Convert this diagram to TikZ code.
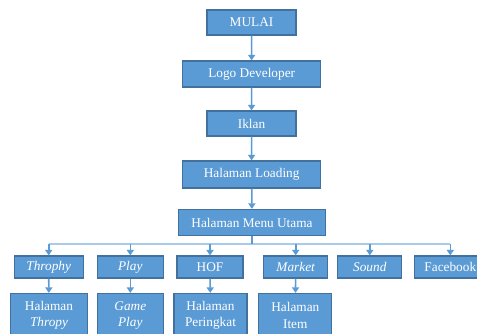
\documentclass[tikz,border=0pt]{standalone}
\usepackage{fontspec}
\setmainfont{Liberation Serif}
\usetikzlibrary{arrows.meta}
\definecolor{boxfill}{HTML}{5B9BD5}
\definecolor{boxline}{HTML}{41719C}
\definecolor{arr}{HTML}{5B9BD5}
\definecolor{bus}{HTML}{A9CBEA}
\begin{document}
\begin{tikzpicture}[x=1pt,y=-1pt,
  box/.style={draw=boxline, fill=boxfill, line width=1.2pt, text=white, inner sep=0pt,
    align=center, font=\fontsize{13.3}{16.5}\selectfont},
  conn/.style={draw=arr, line width=1.6pt, -{Triangle[width=7pt,length=5.5pt]}},
  plain/.style={draw=arr, line width=1.6pt}]
\clip (0,0) rectangle (477,334);
\fill[white] (0,0) rectangle (477,334);
\node[box, minimum width=89pt, minimum height=25pt] (mulai) at (251.5,22.5) {MULAI};
\node[box, minimum width=138pt, minimum height=26pt] (logo) at (251.7,74) {Logo Developer};
\node[box, minimum width=89pt, minimum height=25pt] (iklan) at (251.5,123.5) {Iklan};
\node[box, minimum width=138pt, minimum height=27pt] (load) at (251.7,174.5) {Halaman Loading};
\node[box, minimum width=147pt, minimum height=26pt] (menu) at (252,222.5) {Halaman Menu Utama};
% row 2
\node[box, minimum width=69pt, minimum height=22pt] (throphy) at (48.7,267) {\itshape Throphy};
\node[box, minimum width=66pt, minimum height=22pt] (play) at (130.3,267) {\itshape Play};
\node[box, minimum width=66pt, minimum height=22pt] (hof) at (210,267) {HOF};
\node[box, minimum width=64pt, minimum height=22pt] (market) at (295.7,267) {\itshape Market};
\node[box, minimum width=64pt, minimum height=22pt] (sound) at (369.8,267) {\itshape Sound};
\node[box, minimum width=72pt, minimum height=22pt] (fb) at (450.3,267) {Facebook};
% row 3
\node[box, minimum width=76.6pt, minimum height=44pt] (hthropy) at (49,315.5) {Halaman\\\itshape Thropy};
\node[box, minimum width=66pt, minimum height=44pt] (game) at (130.3,315.5) {\itshape Game\\\itshape Play};
\node[box, minimum width=73pt, minimum height=44pt] (peringkat) at (210.5,315.5) {Halaman\\Peringkat};
\node[box, minimum width=73pt, minimum height=44pt] (item) at (295.3,315.5) {Halaman\\Item};
% arrows top chain
\draw[conn] (mulai) -- (logo);
\draw[conn] (logo) -- (iklan);
\draw[conn] (iklan) -- (load);
\draw[conn] (load) -- (menu);
% bus
\coordinate (b) at (252,244);
\coordinate (bl) at (48.7,244);
\coordinate (br) at (450.3,244);
\draw[bus, line width=2.2pt] (bl) -- (br);
\draw[plain] (menu.south) -- (b);
\foreach \n in {throphy,play,hof,market,sound,fb}
  \draw[conn] (\n.north |- b) -- (\n.north);
% row 2 to row 3
\draw[conn] (throphy) -- (hthropy);
\draw[conn] (play) -- (game);
\draw[conn] (hof) -- (peringkat);
\draw[conn] (market) -- (item);
\end{tikzpicture}
\end{document}
